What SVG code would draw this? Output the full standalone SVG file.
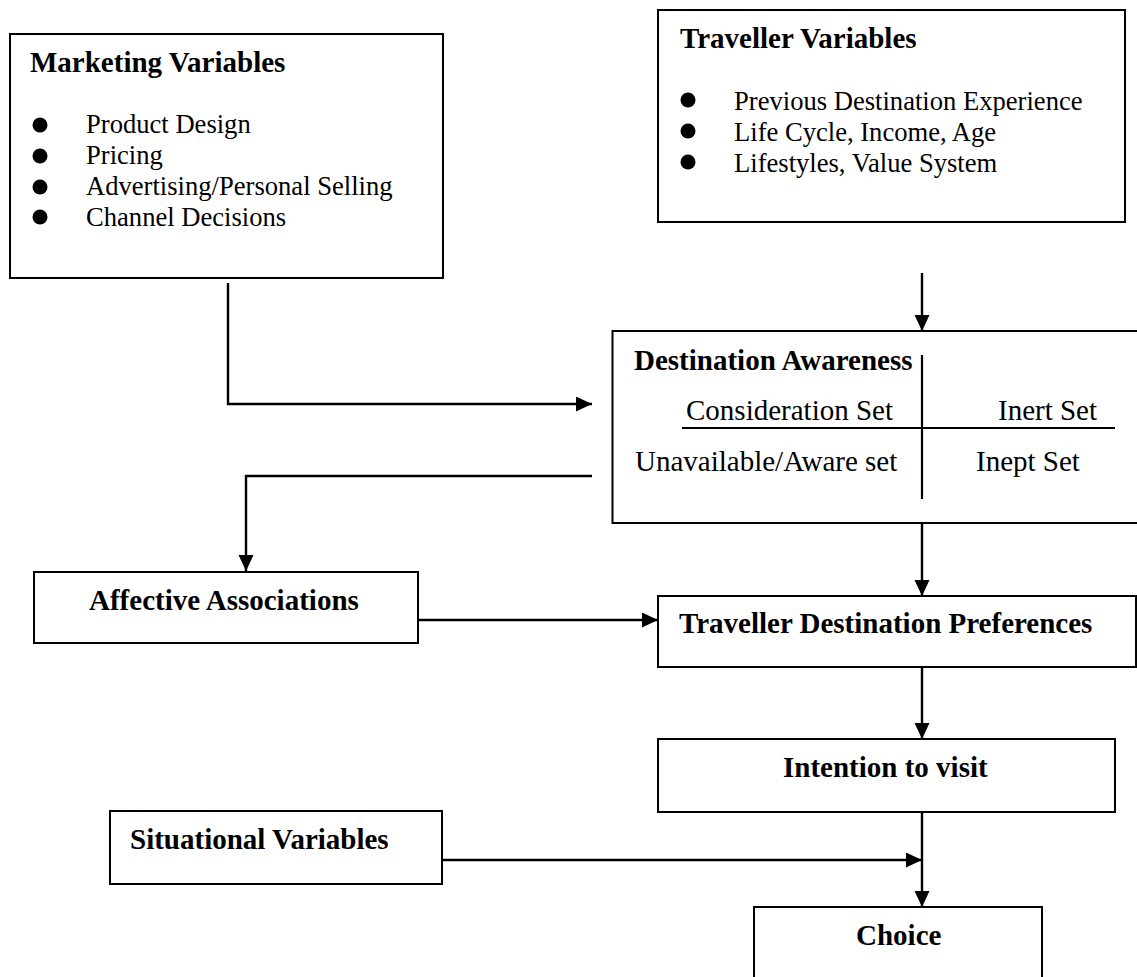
<svg xmlns="http://www.w3.org/2000/svg" width="1137" height="977" viewBox="0 0 1137 977">
<style>
.box{fill:#fff;stroke:#000;stroke-width:2}
.b{font-family:"Liberation Serif","Times New Roman",serif;font-weight:bold;font-size:29px;fill:#000}
.r{font-family:"Liberation Serif","Times New Roman",serif;font-size:26.6px;fill:#000}
.r2{font-family:"Liberation Serif","Times New Roman",serif;font-size:29px;fill:#000}
.ln{fill:none;stroke:#000;stroke-width:2.2}
.arr{fill:none;stroke:#000;stroke-width:2.4;marker-end:url(#ah)}
</style>
<defs>
<marker id="ah" markerUnits="userSpaceOnUse" markerWidth="17" markerHeight="16" refX="16" refY="7.5" orient="auto">
<path d="M0,0 L16,7.5 L0,15 z" fill="#000"/>
</marker>
</defs>
<rect width="1137" height="977" fill="#fff"/>
<g id="connectors">
<path class="arr" d="M228,283 V404 H592"/>
<path class="arr" d="M922,273 V331"/>
<path class="arr" d="M592,476 H246 V571"/>
<path class="arr" d="M922,523 V596"/>
<path class="arr" d="M418,620 H658"/>
<path class="arr" d="M922,667 V739"/>
<path class="arr" d="M922,812 V907"/>
<path class="arr" d="M442,860 H922"/>
</g>
<g id="marketing">
<rect class="box" x="10" y="34" width="433" height="244"/>
<text class="b" x="30" y="72">Marketing Variables</text>
<circle cx="40" cy="125" r="7.5"/>
<circle cx="40" cy="156" r="7.5"/>
<circle cx="40" cy="187" r="7.5"/>
<circle cx="40" cy="217" r="7.5"/>
<text class="r" x="86" y="133">Product Design</text>
<text class="r" x="86" y="164">Pricing</text>
<text class="r" x="86" y="195">Advertising/Personal Selling</text>
<text class="r" x="86" y="226">Channel Decisions</text>
</g>
<g id="traveller">
<rect class="box" x="658" y="10" width="467" height="212"/>
<text class="b" x="680" y="48">Traveller Variables</text>
<circle cx="688" cy="100" r="7.5"/>
<circle cx="688" cy="131" r="7.5"/>
<circle cx="688" cy="162" r="7.5"/>
<text class="r" x="734" y="110">Previous Destination Experience</text>
<text class="r" x="734" y="141">Life Cycle, Income, Age</text>
<text class="r" x="734" y="172">Lifestyles, Value System</text>
</g>
<g id="awareness">
<rect class="box" x="612.5" y="331" width="530" height="192"/>
<text class="b" x="634" y="370">Destination Awareness</text>
<line class="ln" x1="922" y1="355" x2="922" y2="499"/>
<line class="ln" x1="682" y1="428" x2="1115" y2="428"/>
<text class="r2" x="686" y="420">Consideration Set</text>
<text class="r2" x="998" y="420">Inert Set</text>
<text class="r2" x="635" y="471">Unavailable/Aware set</text>
<text class="r2" x="976" y="471">Inept Set</text>
</g>
<g id="affective">
<rect class="box" x="34" y="572" width="384" height="71"/>
<text class="b" x="89" y="610">Affective Associations</text>
</g>
<g id="preferences">
<rect class="box" x="658" y="596" width="478" height="71"/>
<text class="b" x="679" y="633">Traveller Destination Preferences</text>
</g>
<g id="intention">
<rect class="box" x="658" y="739" width="457" height="73"/>
<text class="b" x="783" y="777">Intention to visit</text>
</g>
<g id="situational">
<rect class="box" x="110" y="811" width="332" height="73"/>
<text class="b" x="130" y="849">Situational Variables</text>
</g>
<g id="choice">
<rect class="box" x="754" y="907" width="288" height="80"/>
<text class="b" x="856" y="945">Choice</text>
</g>
</svg>
